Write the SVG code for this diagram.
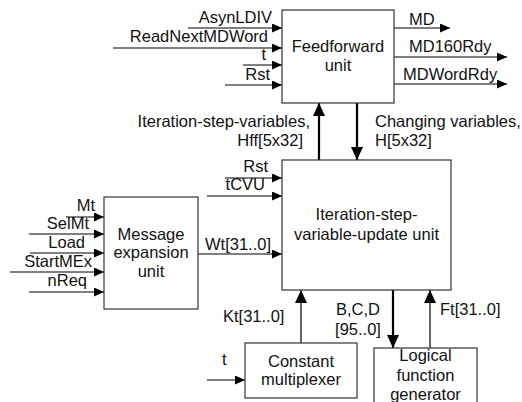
<svg xmlns="http://www.w3.org/2000/svg" width="522" height="402" viewBox="0 0 522 402">
<defs>
<style>
text{font-family:"Liberation Sans",Arial,sans-serif;font-size:16.5px;fill:#111}
.box{fill:#fff;stroke:#333;stroke-width:1.2}
.c{text-anchor:middle}
.r{text-anchor:end}
.w{fill:none;stroke:#000;stroke-width:1.2}
.t{fill:none;stroke:#000;stroke-width:2.2}
</style>
<marker id="a" markerUnits="userSpaceOnUse" markerWidth="11" markerHeight="10" refX="10" refY="4.5" orient="auto"><path d="M0,0 L10,4.5 L0,9 z" fill="#000"/></marker>
<marker id="b" markerUnits="userSpaceOnUse" markerWidth="14" markerHeight="13" refX="13" refY="6" orient="auto"><path d="M0,0 L13,6 L0,12 z" fill="#000"/></marker>
</defs>
<rect width="522" height="402" fill="#fff"/>
<g id="connectors">
<path class="w" d="M188,28H282" marker-end="url(#a)"/>
<path class="w" d="M113,48H282" marker-end="url(#a)"/>
<path class="w" d="M243,65H282" marker-end="url(#a)"/>
<path class="w" d="M225,85H282" marker-end="url(#a)"/>
<path class="w" d="M394,28H450" marker-end="url(#a)"/>
<path class="w" d="M394,57H507" marker-end="url(#a)"/>
<path class="w" d="M394,84H507" marker-end="url(#a)"/>
<path class="t" d="M319,160V103" marker-end="url(#b)"/>
<path class="t" d="M357,103V160" marker-end="url(#b)"/>
<path class="w" d="M225,178H282" marker-end="url(#a)"/>
<path class="w" d="M207,196H282" marker-end="url(#a)"/>
<path class="w" d="M198,254H282" marker-end="url(#a)"/>
<path class="w" d="M66,217H104" marker-end="url(#a)"/>
<path class="w" d="M29,234H104" marker-end="url(#a)"/>
<path class="w" d="M30,253H104" marker-end="url(#a)"/>
<path class="w" d="M10,272H104" marker-end="url(#a)"/>
<path class="w" d="M29,292H104" marker-end="url(#a)"/>
<path class="w" d="M301,343V290" marker-end="url(#b)"/>
<path class="t" d="M393,290V348" marker-end="url(#b)"/>
<path class="w" d="M430,348V290" marker-end="url(#b)"/>
<path class="w" d="M207,380H245" marker-end="url(#a)"/>
<text class="r" x="272" y="23">AsynLDIV</text>
<text class="r" x="268" y="42">ReadNextMDWord</text>
<text class="r" x="266" y="60">t</text>
<text class="r" x="270" y="80">Rst</text>
<text x="409" y="25">MD</text>
<text x="409" y="52">MD160Rdy</text>
<text x="403" y="80">MDWordRdy</text>
<text class="r" x="310" y="127">Iteration-step-variables,</text>
<text class="r" x="303" y="146">Hff[5x32]</text>
<text x="375" y="127">Changing variables,</text>
<text x="375" y="146">H[5x32]</text>
<text class="r" x="268" y="172">Rst</text>
<text class="r" x="265" y="190">tCVU</text>
<text x="205" y="250">Wt[31..0]</text>
<text class="r" x="95" y="211">Mt</text>
<text class="r" x="89" y="229">SelMt</text>
<text class="r" x="85" y="248">Load</text>
<text class="r" x="92" y="267">StartMEx</text>
<text class="r" x="87" y="286">nReq</text>
<text x="223" y="322">Kt[31..0]</text>
<text class="c" x="358" y="315">B,C,D</text>
<text class="c" x="358" y="335">[95..0]</text>
<text x="440" y="315">Ft[31..0]</text>
<text x="222" y="365">t</text>
</g>
<g id="feedforward">
<rect class="box" x="282" y="10" width="112" height="93"/>
<text class="c" x="338" y="52">Feedforward</text>
<text class="c" x="338" y="71">unit</text>
</g>
<g id="isvu">
<rect class="box" x="282" y="160" width="169" height="130"/>
<text class="c" x="366.5" y="220">Iteration-step-</text>
<text class="c" x="366.5" y="240">variable-update unit</text>
</g>
<g id="meu">
<rect class="box" x="104" y="197" width="94" height="112"/>
<text class="c" x="151" y="240">Message</text>
<text class="c" x="151" y="258">expansion</text>
<text class="c" x="151" y="277">unit</text>
</g>
<g id="constmux">
<rect class="box" x="245" y="343" width="112" height="55"/>
<text class="c" x="301" y="367">Constant</text>
<text class="c" x="301" y="385">multiplexer</text>
</g>
<g id="lfg">
<rect class="box" x="374" y="348" width="103" height="70"/>
<text class="c" x="425.5" y="361">Logical</text>
<text class="c" x="425.5" y="381">function</text>
<text class="c" x="425.5" y="400">generator</text>
</g>
</svg>
